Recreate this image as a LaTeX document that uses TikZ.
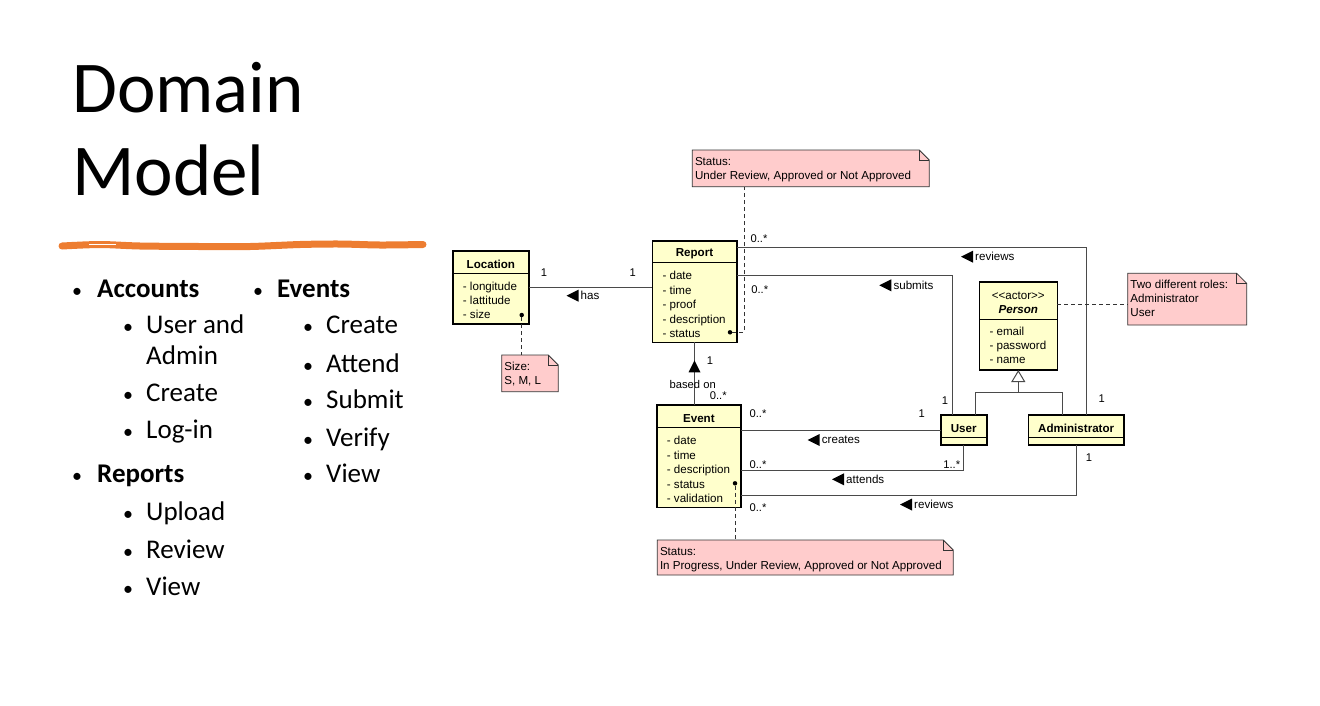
\documentclass[tikz,border=0pt]{standalone}
\usepackage{fontspec}
\setmainfont{Carlito}
\newfontfamily\umlfont{Liberation Sans}
\usepackage{xcolor}
\usepackage{tikz}
\usetikzlibrary{arrows.meta}

\definecolor{classfill}{HTML}{FFFFCC}
\definecolor{notefill}{HTML}{FFCCCC}
\definecolor{brushorange}{HTML}{ED7D31}
\definecolor{linkgray}{HTML}{4A4A4A}

% class box: name, x, y, width, height, header height, title
\newcommand{\umlclass}[7]{
\node[classbox, minimum width=#4, minimum height=#5] (#1) at (#2,#3) {};
\draw[classline] ([yshift=-#6]#1.north west) -- ([yshift=-#6]#1.north east);
\node[classtitle] (#1-title) at ([yshift=-#6/2-2]#1.north) {#7};
}
% attributes: class, first baseline, list
\newcommand{\umlattrs}[3]{
\foreach \a [count=\i] in {#3}
  \node[classattr] (#1-attr\i) at ([xshift=10, yshift=-#2-(\i-1)*14.4]#1.north west) {- \a};
}
% note: name, x, y, width, height, text
\newcommand{\umlnote}[6]{
\node[notebox, minimum width=#4, minimum height=#5] (#1) at (#2,#3) {};
\draw[noteline, fill=notefill] (#1.north west) -- ([xshift=-10]#1.north east) -- ([yshift=-10]#1.north east) -- (#1.south east) -- (#1.south west) -- cycle;
\draw[noteline] ([xshift=-10]#1.north east) |- ([yshift=-10]#1.north east);
\node[notetext] (#1-text) at ([xshift=2.5, yshift=-7]#1.north west) {#6};
}
% association name with its direction mark
\newcommand{\dirlabel}[4]{
\node[assoclabel, anchor=west] (#1) at (#2,#3) {#4};
\fill ([xshift=-14]#1.west) -- ++(12,-6) -- ++(0,12) -- cycle;
}

\tikzset{
  classbox/.style={draw, line width=1.6pt, fill=classfill, anchor=north west, inner sep=0pt, outer sep=0pt},
  classline/.style={line width=0.9pt},
  classtitle/.style={inner sep=0pt, align=center, font=\umlfont\bfseries\fontsize{11.6}{14}\selectfont},
  classattr/.style={anchor=base west, inner sep=0pt, font=\umlfont\fontsize{11.6}{14}\selectfont},
  notebox/.style={anchor=north west, inner sep=0pt, outer sep=0pt},
  noteline/.style={draw=black!80, line width=0.8pt},
  notetext/.style={anchor=north west, inner sep=0pt, align=left, font=\umlfont\fontsize{11.6}{14}\selectfont},
  notelink/.style={draw=black!80, line width=0.9pt, dash pattern=on 4pt off 3pt},
  notedot/.style={circle, fill=black, inner sep=0pt, minimum size=4.5pt},
  assoc/.style={draw=linkgray, line width=1pt},
  assoclabel/.style={inner sep=0pt, font=\umlfont\fontsize{11.6}{14}\selectfont},
  mult/.style={inner sep=0pt, font=\umlfont\fontsize{11.2}{14}\selectfont},
  slidetitle/.style={anchor=base west, inner sep=0pt, font=\fontsize{73}{83}\selectfont},
  topic/.style={anchor=base west, inner sep=0pt, font=\bfseries\fontsize{27}{32}\selectfont},
  listitem/.style={anchor=base west, inner sep=0pt, font=\fontsize{27}{32}\selectfont},
  listdot/.style={anchor=base, inner sep=0pt, font=\fontsize{20}{24}\selectfont}
}

\begin{document}
\begin{tikzpicture}[x=1pt, y=-1pt]
\useasboundingbox (0,0) rectangle (1320,705);

% title and brush stroke
\node[slidetitle] (title1) at (72,112) {Domain};
\node[slidetitle] (title2) at (72,195) {Model};
\draw[brushorange, line width=7pt, line cap=round] plot[smooth] coordinates {(62,246) (100,244.5) (140,246) (200,246.5) (250,246.5) (300,244.5) (340,244) (380,245) (423,244.5)};
\draw[white, line width=0.8pt] (89,244) -- (116,244);

% bullet list
\foreach \lbl/\x/\y [count=\i] in {Accounts/97/297, Reports/97/482, Events/277/297}
  \node[topic] (topic\i) at (\x,\y) {\lbl};
\foreach \x/\y [count=\i] in {77/297, 77/482, 258/297}
  \node[listdot] (topicdot\i) at (\x,\y) {\textbullet};
\foreach \lbl/\x/\y [count=\i] in {User and/146/333, Admin/146/364, Create/146/401, Log-in/146/438, Upload/146/520, Review/146/558, View/146/595, Create/326/333, Attend/326/372, Submit/326/408, Verify/326/446, View/326/482}
  \node[listitem] (item\i) at (\x,\y) {\lbl};
\foreach \x/\y [count=\i] in {128/333, 128/401, 128/438, 128/520, 128/558, 128/595, 308/333, 308/372, 308/408, 308/446, 308/482}
  \node[listdot] (itemdot\i) at (\x,\y) {\textbullet};

% classes
\umlclass{location}{452.7}{251}{76.3}{73}{22}{Location}
\umlattrs{location}{39}{longitude,lattitude,size}
\umlclass{report}{652.3}{240.7}{84.4}{101.6}{22}{Report}
\umlattrs{report}{39.2}{date,time,proof,description,status}
\umlclass{event}{656.7}{405}{84.3}{102.3}{22.3}{Event}
\umlattrs{event}{39.9}{date,time,description,status,validation}
\umlclass{person}{979.3}{281.7}{78}{88.3}{37.6}{{\mdseries <{}<actor>{}>}\\\textit{Person}}
\umlattrs{person}{53.3}{email,password,name}
\umlclass{user}{940.7}{415}{46}{30}{22.3}{User}
\umlclass{admin}{1028.3}{415}{95.7}{30}{22.3}{Administrator}

% notes
\umlnote{repnote}{692.3}{150}{237}{36.7}{Status:\\Under Review, Approved or Not Approved}
\umlnote{sizenote}{501.7}{355}{56.6}{36.7}{Size:\\S, M, L}
\umlnote{rolenote}{1127.7}{273.3}{119}{51.7}{Two different roles:\\Administrator\\User}
\umlnote{evnote}{657.3}{540}{296}{35}{Status:\\In Progress, Under Review, Approved or Not Approved}

% associations
\draw[assoc] (location.east) -- (location.east -| report.west);
\draw[assoc] (report.south) -- (report.south |- event.north);
\draw[assoc] ([yshift=-6.7]report.north east) -| ([xshift=10.5]admin.north);
\draw[assoc] ([yshift=-35]report.north east) -| ([xshift=-11]user.north);
\draw[assoc] (event.east |- user.west) -- (user.west);
\draw[assoc] ([yshift=-65.3]event.north east) -| (user.south);
\draw[assoc] ([yshift=-90.3]event.north east) -| (admin.south);
\fill ([yshift=-18]report.south) -- ++(-6,12) -- ++(12,0) -- cycle;

% generalisation
\coordinate (genjoin) at ([yshift=-22.7]person.south);
\draw[assoc] ([xshift=11.3]user.north) |- (genjoin) -| ([xshift=-13.8]admin.north);
\draw[assoc, -{Triangle[open, length=12pt, width=14pt, fill=white]}] (genjoin) -- (person.south);

% association names
\dirlabel{has}{580.5}{295.7}{has}
\dirlabel{reviewsrep}{975}{256.7}{reviews}
\dirlabel{submits}{893.3}{285.3}{submits}
\dirlabel{creates}{821.7}{440}{creates}
\dirlabel{attends}{846}{479.3}{attends}
\dirlabel{reviewsev}{914}{504.5}{reviews}

% multiplicities
\foreach \lbl/\x/\y [count=\i] in {1/544/272.7, 1/632.7/272.7, 0..*/759/239, 0..*/759.7/290, 1/945/400.7, 1/1101.7/399, 1/710/361, based on/692.7/384.3, 0..*/718.3/396, 0..*/758/414, 1/921.7/414, 0..*/758/465, 1..*/951.7/465, 0..*/758/508, 1/1089/458}
  \node[mult] (mult\i) at (\x,\y) {\lbl};

% note links
\node[notedot] (locdot) at (521.7,315) {};
\node[notedot] (repdot) at (730,332.3) {};
\node[notedot] (evdot) at (735,483.3) {};
\coordinate (rolelink) at ([yshift=-23]person.north east);
\draw[notelink] (locdot) -- (locdot |- sizenote.north);
\draw[notelink] (repdot) -| ([xshift=52]repnote.south west);
\draw[notelink] (rolelink) -- (rolelink -| rolenote.west);
\draw[notelink] (evdot) -- (evdot |- evnote.north);

\end{tikzpicture}
\end{document}
